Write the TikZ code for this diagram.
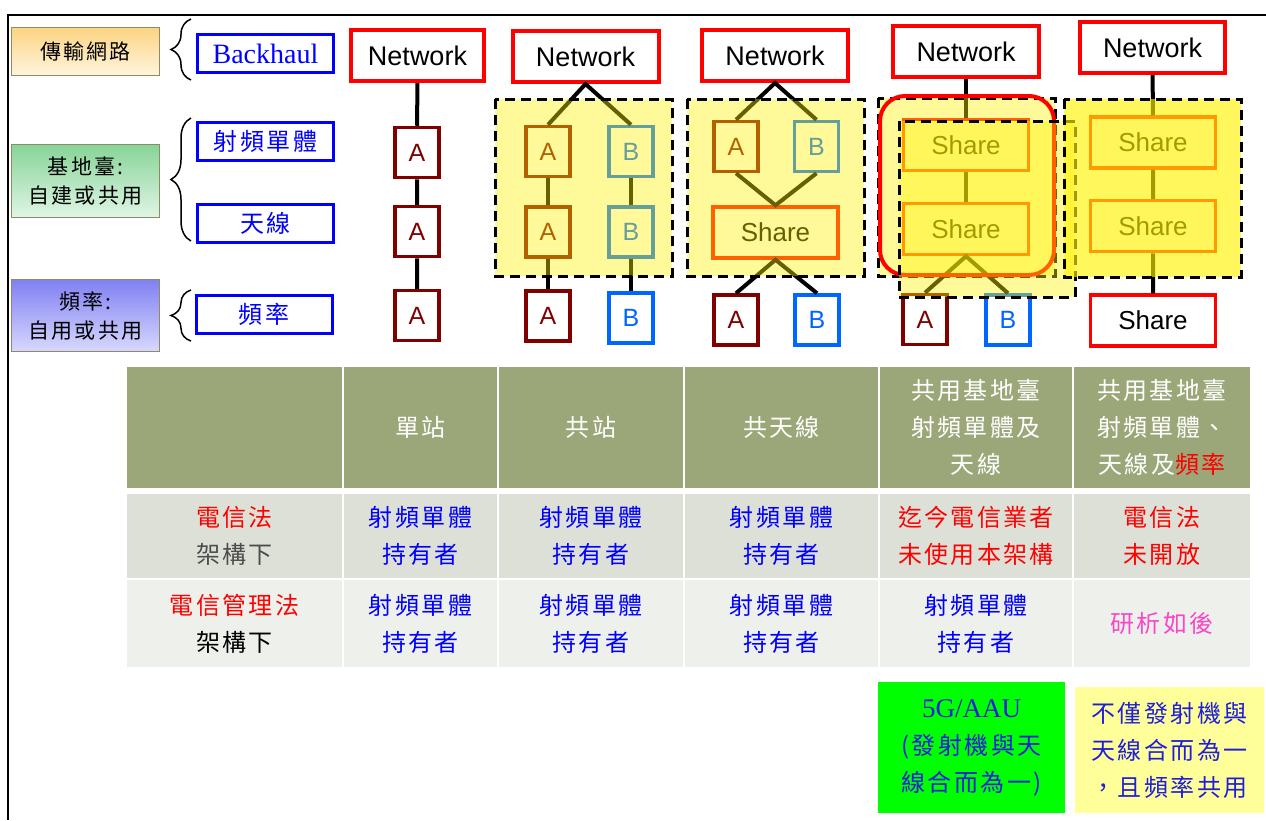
\documentclass[tikz,border=0pt]{standalone}
\usepackage{fontspec}
\setmainfont{Liberation Serif}
\setsansfont{Liberation Sans}
\newfontfamily\cjk{Noto Sans CJK TC}[LetterSpace=10]
\usetikzlibrary{decorations.pathreplacing}

\definecolor{netred}{RGB}{255,0,0}
\definecolor{adark}{RGB}{128,0,0}
\definecolor{bblue}{RGB}{0,102,255}
\definecolor{boxblue}{RGB}{0,0,255}
\definecolor{labline}{RGB}{140,140,100}
\definecolor{nettop}{RGB}{252,212,130}
\definecolor{netbot}{RGB}{255,244,222}
\definecolor{bstop}{RGB}{135,212,152}
\definecolor{bsbot}{RGB}{224,245,229}
\definecolor{fqtop}{RGB}{128,128,242}
\definecolor{fqbot}{RGB}{216,216,255}
\definecolor{hdrgreen}{RGB}{155,167,120}
\definecolor{rowone}{RGB}{221,224,214}
\definecolor{rowtwo}{RGB}{238,240,235}
\definecolor{pinktxt}{RGB}{250,70,200}
\definecolor{greenfg}{RGB}{0,255,0}
\definecolor{notey}{RGB}{255,255,153}
\definecolor{noteblue}{RGB}{30,30,220}
\definecolor{graytxt}{RGB}{77,77,77}

\tikzset{
	lab/.style={draw=labline, line width=1pt, minimum width=148, inner sep=0pt, align=center,
		font=\cjk\fontsize{21}{29}\selectfont},
	bb/.style={draw=boxblue, line width=3pt, text=boxblue, fill=white, minimum width=136, minimum height=38,
		inner sep=0pt, font=\cjk\fontsize{24}{24}\selectfont},
	net/.style={draw=netred, line width=4pt, fill=white, minimum width=146, minimum height=51, inner sep=0pt,
		font=\sffamily\fontsize{27}{27}\selectfont},
	sq/.style={draw=#1, text=#1, line width=3.5pt, fill=white, minimum width=44, minimum height=50, inner sep=0pt,
		font=\sffamily\fontsize{25}{25}\selectfont},
	shr/.style={draw=netred, line width=3.5pt, fill=white, minimum width=125, minimum height=51, inner sep=0pt,
		font=\sffamily\fontsize{26}{26}\selectfont},
	link/.style={line width=4pt},
	shade/.style={fill=yellow, fill opacity=.4},
	grp/.style={line width=3pt, dash pattern=on 10pt off 6pt},
	tcell/.style={fill=#1, inner sep=0pt, align=center, font=\cjk\fontsize{24}{37}\selectfont},
	hrow/.style={tcell=hdrgreen, minimum height=121, text=white},
	rowa/.style={tcell=rowone, minimum height=84},
	rowb/.style={tcell=rowtwo, minimum height=87},
	note/.style={inner sep=0pt, align=center, text=noteblue, font=\cjk\fontsize{24}{37}\selectfont}
}

\begin{document}
\begin{tikzpicture}[x=1pt, y=-1pt]
	\useasboundingbox (0,0) rectangle (1266,820);
	\draw[line width=2pt] (8,820) -- (8,15) -- (1266,15);

	% left side labels
	\node[lab, minimum height=48, top color=nettop, bottom color=netbot] (labnet) at (85.5,51.5) {傳輸網路};
	\node[lab, minimum height=73, top color=bstop, bottom color=bsbot] (labbs) at (85.5,181) {基地臺:\\自建或共用};
	\node[lab, minimum height=72, top color=fqtop, bottom color=fqbot] (labfq) at (85.5,315.5) {頻率:\\自用或共用};

	\draw[line width=1.5pt, decorate, decoration={brace, amplitude=20pt}] (191,80) -- (191,19);
	\draw[line width=1.5pt, decorate, decoration={brace, amplitude=20pt}] (191,241) -- (191,118);
	\draw[line width=1.5pt, decorate, decoration={brace, amplitude=20pt}] (191,341) -- (191,290);

	\node[bb, font=\rmfamily\fontsize{28}{28}\selectfont] (bh) at (265.5,53.5) {Backhaul};
	\node[bb] (rf) at (265.5,141.5) {射頻單體};
	\node[bb] (ant) at (265.5,223.5) {天線};
	\node[bb] (fq) at (264,314) {頻率};

	% single site
	\node[net, minimum width=133] (n1) at (417.5,55.5) {Network};
	\node[sq=adark] (a1u) at (417,152.5) {A};
	\node[sq=adark] (a1m) at (417,231.5) {A};
	\node[sq=adark] (a1d) at (417,315.5) {A};
	\draw[link] (n1) -- (a1u) -- (a1m) -- (a1d);

	% co-site
	\node[net] (n2) at (585.5,56.5) {Network};
	\node[sq=adark] (a2u) at (548,151.5) {A};
	\node[sq=adark] (a2m) at (548,232) {A};
	\node[sq=bblue] (b2u) at (631,151.5) {B};
	\node[sq=bblue] (b2m) at (631,232) {B};
	\node[sq=adark] (a2d) at (548,316) {A};
	\node[sq=bblue] (b2d) at (631,318) {B};
	\draw[link] (a2u.north) -- (n2.south) -- (b2u.north);
	\draw[link] (a2u) -- (a2m) -- (a2d);
	\draw[link] (b2u) -- (b2m) -- (b2d);
	\fill[shade] (495,99) rectangle (672,276);
	\draw[grp] (495,99) rectangle (672,276);

	% shared antenna
	\node[net] (n3) at (775,55.5) {Network};
	\node[sq=adark] (a3) at (736,146.5) {A};
	\node[sq=bblue] (b3) at (816.5,146.5) {B};
	\node[shr] (s3) at (775.5,232.5) {Share};
	\node[sq=adark] (a3d) at (736,320) {A};
	\node[sq=bblue] (b3d) at (817,320) {B};
	\draw[link] (a3.north) -- (n3.south) -- (b3.north);
	\draw[link] (a3.south) -- (s3.north) -- (b3.south);
	\draw[link] (a3d.north) -- (s3.south) -- (b3d.north);
	\fill[shade] (687,99) rectangle (864,276);
	\draw[grp] (687,99) rectangle (864,276);

	% shared radio unit and antenna
	\node[net] (n4) at (966,51.5) {Network};
	\node[shr] (s4u) at (966,145) {Share};
	\node[shr] (s4m) at (966,229) {Share};
	\node[sq=adark] (a4d) at (925,319.5) {A};
	\node[sq=bblue] (b4d) at (1008,320) {B};
	\draw[link] (n4) -- (s4u) -- (s4m);
	\draw[link] (a4d.north) -- (s4m.south) -- (b4d.north);
	\fill[shade] (878,98) rectangle (1055,276);
	\draw[grp] (878,98) rectangle (1055,276);
	\draw[netred, line width=4pt, rounded corners=25pt] (880,96) rectangle (1054,275);
	\fill[shade] (899,121) rectangle (1075,297);
	\draw[grp] (899,121) rectangle (1075,297);

	% shared spectrum too
	\node[net, minimum width=145] (n5) at (1152.5,47.5) {Network};
	\node[shr] (s5u) at (1153,142.5) {Share};
	\node[shr] (s5m) at (1153,226) {Share};
	\node[shr] (s5d) at (1153,320.5) {Share};
	\draw[link] (n5) -- (s5u) -- (s5m) -- (s5d);
	\fill[shade, fill opacity=.64] (1064,99) rectangle (1241,277);
	\draw[grp] (1064,99) rectangle (1241,277);

	% table
	\node[hrow, minimum width=215] (h0) at (234.5,427.5) {};
	\node[hrow, minimum width=153] (h1) at (420.5,427.5) {單站};
	\node[hrow, minimum width=184] (h2) at (591,427.5) {共站};
	\node[hrow, minimum width=193] (h3) at (781.5,427.5) {共天線};
	\node[hrow, minimum width=192] (h4) at (976,427.5) {共用基地臺\\射頻單體及\\天線};
	\node[hrow, minimum width=176] (h5) at (1162,427.5) {共用基地臺\\射頻單體、\\天線及\textcolor{netred}{頻率}};

	\node[rowa, minimum width=215] (r10) at (234.5,536) {\textcolor{netred}{電信法}\\\textcolor{graytxt}{架構下}};
	\node[rowa, minimum width=153, text=boxblue] (r11) at (420.5,536) {射頻單體\\持有者};
	\node[rowa, minimum width=184, text=boxblue] (r12) at (591,536) {射頻單體\\持有者};
	\node[rowa, minimum width=193, text=boxblue] (r13) at (781.5,536) {射頻單體\\持有者};
	\node[rowa, minimum width=192, text=netred] (r14) at (976,536) {迄今電信業者\\未使用本架構};
	\node[rowa, minimum width=176, text=netred] (r15) at (1162,536) {電信法\\未開放};

	\node[rowb, minimum width=215] (r20) at (234.5,623.5) {\textcolor{netred}{電信管理法}\\架構下};
	\node[rowb, minimum width=153, text=boxblue] (r21) at (420.5,623.5) {射頻單體\\持有者};
	\node[rowb, minimum width=184, text=boxblue] (r22) at (591,623.5) {射頻單體\\持有者};
	\node[rowb, minimum width=193, text=boxblue] (r23) at (781.5,623.5) {射頻單體\\持有者};
	\node[rowb, minimum width=192, text=boxblue] (r24) at (976,623.5) {射頻單體\\持有者};
	\node[rowb, minimum width=176, text=pinktxt] (r25) at (1162,623.5) {研析如後};

	% notes
	\node[note, fill=greenfg, minimum width=187, minimum height=131] (g5) at (971.5,747.5)
		{{\rmfamily\fontsize{27}{27}\selectfont 5G/AAU}\\(發射機與天\\線合而為一)};
	\node[note, fill=notey, minimum width=189, minimum height=126] (yl) at (1169.5,750)
		{不僅發射機與\\天線合而為一\\，且頻率共用};
\end{tikzpicture}
\end{document}
